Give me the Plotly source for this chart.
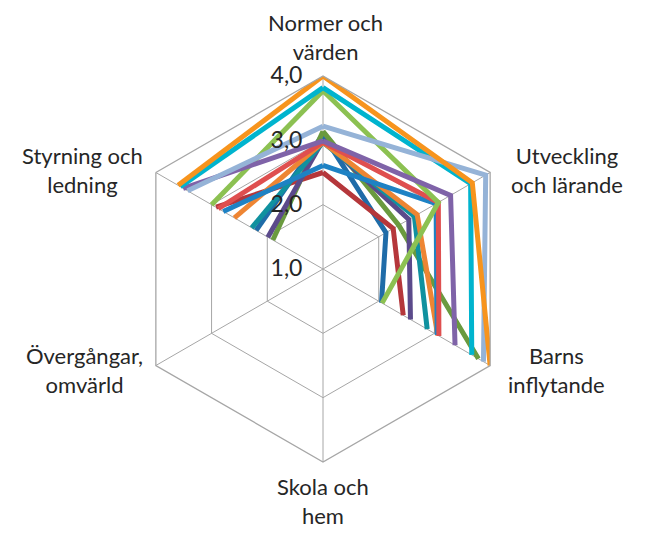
import plotly.graph_objects as go

categories = ["Normer och värden", "Utveckling och lärande", "Barns inflytande",
              "Skola och hem", "Övergångar, omvärld", "Styrning och ledning"]
category_labels = ["Normer och<br>värden", "Utveckling<br>och lärande", "Barns<br>inflytande",
                   "Skola och<br>hem", "Övergångar,<br>omvärld", "Styrning och<br>ledning"]
tick_values = [1, 2, 3, 4]
tick_labels = ["1,0", "2,0", "3,0", "4,0"]

# values per series in category order (None = no answer)
s_darkblue = [3.09, 2.13, 2.05, None, None, 2.20]
s_darkred = [2.50, 2.26, 2.44, None, None, 2.92]
s_olive = [3.14, 2.36, 3.79, None, None, 1.90]
s_darkpurple = [3.00, 2.54, 2.57, None, None, 1.99]
s_teal = [2.97, 2.64, 2.87, None, None, 2.28]
s_orange = [2.97, 2.69, 3.06, None, None, 2.59]
s_blue = [2.61, 3.03, 3.05, None, None, 2.79]
s_red = [2.97, 3.07, 3.08, None, None, 2.88]
s_lightgreen = [3.77, 3.07, 2.06, None, None, 3.00]
s_purple = [2.99, 3.29, 3.37, None, None, 3.51]
s_cyan = [3.82, 3.65, 3.67, None, None, 3.56]
s_lightblue = [3.22, 3.92, 3.88, None, None, 3.43]
s_orangebright = [4.00, 3.68, 4.00, None, None, 3.60]

series = [
    ("Serie 1", s_darkblue, "#1F6CA8"),
    ("Serie 2", s_darkred, "#B5373B"),
    ("Serie 3", s_olive, "#6A9A3F"),
    ("Serie 4", s_darkpurple, "#5B4A8B"),
    ("Serie 5", s_teal, "#10919F"),
    ("Serie 6", s_orange, "#EE8533"),
    ("Serie 7", s_blue, "#1E82C4"),
    ("Serie 8", s_red, "#DF4F4F"),
    ("Serie 9", s_lightgreen, "#8CC152"),
    ("Serie 10", s_purple, "#7F63A8"),
    ("Serie 11", s_cyan, "#00B4CE"),
    ("Serie 12", s_lightblue, "#95B3D7"),
    ("Serie 13", s_orangebright, "#F7941D"),
]

# page body has an 8px margin: draw in a 630x522 figure offset by 8px
OFF = 8
W, H = 630, 522
fig = go.Figure()
for name, vals, col in series:
    r = list(vals) + [vals[0]]
    th = categories + [categories[0]]
    fig.add_trace(go.Scatterpolar(r=r, theta=th, mode="lines", name=name,
                                  connectgaps=False, showlegend=False,
                                  line=dict(color=col, width=5)))

cx, cy, R = 323 - OFF, 269 - OFF, 193
grid = "#A6A6A6"
fig.update_layout(
    width=W, height=H, margin=dict(l=0, r=0, t=0, b=0),
    paper_bgcolor="white", plot_bgcolor="white",
    font=dict(family="Lato, 'Open Sans', sans-serif", color="#262626"),
    polar=dict(
        domain=dict(x=[(cx - R) / W, (cx + R) / W], y=[1 - (cy + R) / H, 1 - (cy - R) / H]),
        gridshape="linear",
        bgcolor="white",
        radialaxis=dict(range=[1, 4], tickvals=tick_values, ticktext=tick_labels,
                        angle=90, tickangle=90, side="counterclockwise",
                        showline=False, ticks="outside", ticklen=12, tickcolor="rgba(0,0,0,0)",
                        gridcolor=grid, gridwidth=1.3, layer="above traces",
                        tickfont=dict(size=23, color="#262626")),
        angularaxis=dict(categoryorder="array", categoryarray=categories,
                         rotation=90, direction="clockwise",
                         showticklabels=False, ticks="",
                         gridcolor=grid, gridwidth=1.3,
                         linecolor=grid, linewidth=1.3),
    ),
)

label_pos = [(325, 37), (567, 170), (556, 370), (323, 501), (84, 370), (82, 170)]
for txt, (px, py) in zip(category_labels, label_pos):
    fig.add_annotation(x=(px - OFF) / W, y=1 - (py - OFF) / H, xref="paper", yref="paper",
                       text=txt, showarrow=False, xanchor="center", yanchor="middle",
                       font=dict(size=22, color="#262626"), align="center")

fig.write_html("out.html")
